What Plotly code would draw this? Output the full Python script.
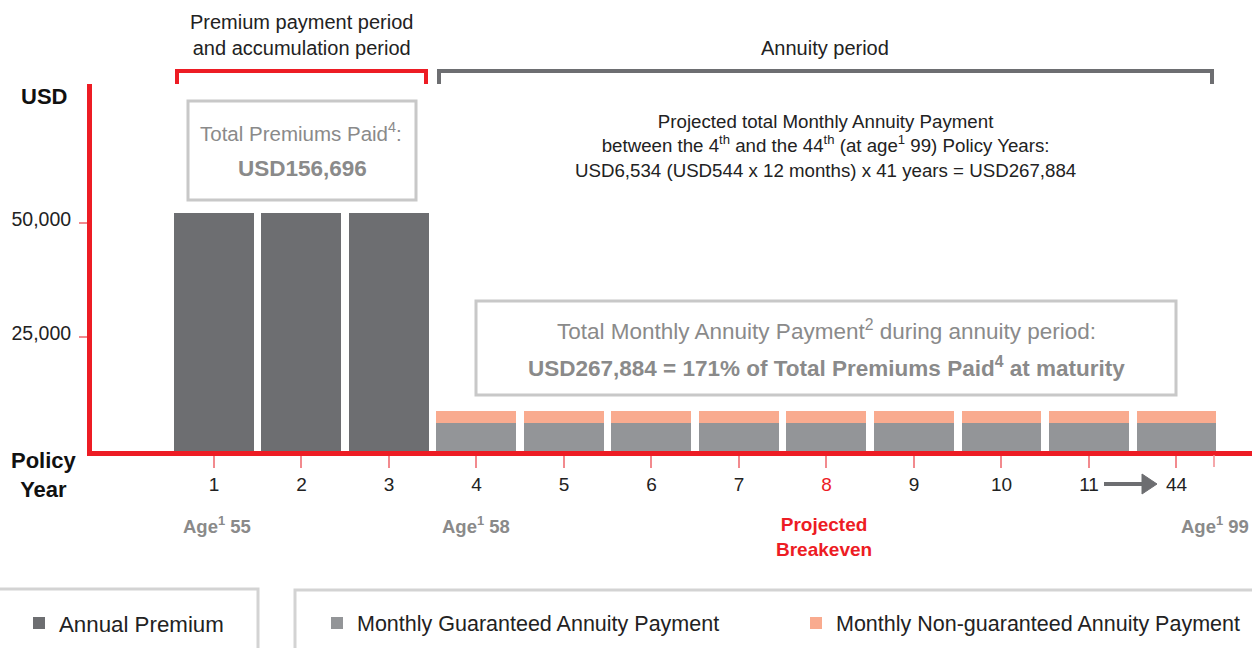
import plotly.graph_objects as go

# ---- data ----
policy_years = ["1", "2", "3", "4", "5", "6", "7", "8", "9", "10", "11", "44"]
premium_years = ["1", "2", "3"]
annual_premium = [52232, 52232, 52232]
annuity_years = ["4", "5", "6", "7", "8", "9", "10", "11", "44"]
guaranteed_annuity = [6200, 6200, 6200, 6200, 6200, 6200, 6200, 6200, 6200]
non_guaranteed_annuity = [2600, 2600, 2600, 2600, 2600, 2600, 2600, 2600, 2600]
y_tick_values = [25000, 50000]
y_tick_labels = ["25,000", "50,000"]
x_tick_labels = ["1", "2", "3", "4", "5", "6", "7",
                 '<span style="color:#ed1c24">8</span>', "9", "10", "11", "44"]

# ---- style ----
RED = "#ed1c24"
TICK_RED = "#f28a8e"
C_PREM = "#6d6e71"
C_GUAR = "#939598"
C_NONG = "#f9ab8f"
BOX = "#c8c8c8"
GTXT = "#8a8a8a"
FONT = "Liberation Sans, Arial, sans-serif"

W, H = 1252, 648
L, T, R, B = 92, 84, 0, 197
PW, PH = W - L - R, H - T - B


def px(x):
    return (x - L) / PW


def py(y):
    return (H - B - y) / PH


fig = go.Figure()
fig.add_trace(go.Bar(x=premium_years, y=annual_premium, name="Annual Premium",
                     marker=dict(color=C_PREM, line=dict(width=0)), legend="legend"))
fig.add_trace(go.Bar(x=annuity_years, y=guaranteed_annuity,
                     name="Monthly Guaranteed Annuity Payment",
                     marker=dict(color=C_GUAR, line=dict(width=0)), legend="legend2"))
fig.add_trace(go.Bar(x=annuity_years, y=non_guaranteed_annuity,
                     name="Monthly Non-guaranteed Annuity Payment",
                     marker=dict(color=C_NONG, line=dict(width=0)), legend="legend3"))

shapes = []
annotations = []


def rect(x0, y0, x1, y1, color=BOX, w=3):
    shapes.append(dict(type="rect", xref="paper", yref="paper",
                       x0=px(x0), x1=px(x1), y0=py(y0), y1=py(y1),
                       line=dict(color=color, width=w), layer="above"))


def path(points, color, w):
    d = "M " + " L ".join(f"{px(x)},{py(y)}" for x, y in points)
    shapes.append(dict(type="path", xref="paper", yref="paper", path=d,
                       line=dict(color=color, width=w)))


def text(x, y, s, size=17, color="#222", xanchor="center", bold=False, align="center"):
    if bold:
        s = "<b>" + s + "</b>"
    annotations.append(dict(xref="paper", yref="paper", x=px(x), y=py(y), text=s,
                            showarrow=False, xanchor=xanchor, yanchor="middle",
                            align=align, font=dict(family=FONT, size=size, color=color)))


# brackets
path([(177, 84), (177, 71), (426, 71), (426, 84)], RED, 4)
path([(439, 84), (439, 71), (1212, 71), (1212, 84)], C_PREM, 4)
text(301, 35, "Premium payment period<br>and accumulation period", size=20)
text(825, 48, "Annuity period", size=20)

# text boxes
rect(188, 101, 416, 200)
text(301, 132, "Total Premiums Paid<sup>4</sup>:", size=20.5, color=GTXT)
text(302, 168, "USD156,696", size=22.5, color=GTXT, bold=True)
rect(476, 301, 1176, 395)
text(826, 330, "Total Monthly Annuity Payment<sup>2</sup> during annuity period:",
     size=22.5, color=GTXT)
text(826, 367, "USD267,884 = 171% of Total Premiums Paid<sup>4</sup> at maturity",
     size=22.5, color=GTXT, bold=True)
text(825, 146, "Projected total Monthly Annuity Payment<br>"
               "between the 4<sup>th</sup> and the 44<sup>th</sup> (at age<sup>1</sup> 99) Policy Years:<br>"
               "USD6,534 (USD544 x 12 months) x 41 years = USD267,884", size=18.7)

# axis labels
text(44, 96, "USD", size=22, color="#111", bold=True)
text(44, 475, "Policy<br>Year", size=22, color="#111", bold=True)

# age labels
text(217, 525, "Age<sup>1</sup> 55", size=18.5, color=GTXT, bold=True)
text(476, 525, "Age<sup>1</sup> 58", size=18.5, color=GTXT, bold=True)
text(824, 537, "Projected<br>Breakeven", size=19, color=RED, bold=True)
text(1251, 525, "Age<sup>1</sup> 99", size=18.5, color=GTXT, bold=True, xanchor="right")

# arrow between 11 and 44
path([(1104, 484), (1144, 484)], C_PREM, 4)
shapes.append(dict(type="path", xref="paper", yref="paper",
                   path=f"M {px(1142)},{py(474)} L {px(1157)},{py(484)} L {px(1142)},{py(494)} Z",
                   fillcolor=C_PREM, line=dict(color=C_PREM, width=1)))

# extra tick at right edge of last bar
path([(1214, 455), (1214, 467)], TICK_RED, 1.5)

# legend boxes
rect(-10, 589, 258, 670, color="#d3d3d3", w=3)
rect(295, 590, 1262, 670, color="#d3d3d3", w=3)

legend_font = dict(family=FONT, size=21.5, color="#222")
fig.update_layout(
    width=W, height=H,
    margin=dict(l=L, r=R, t=T, b=B, pad=0),
    paper_bgcolor="white", plot_bgcolor="white",
    barmode="stack", bargap=0.086,
    font=dict(family=FONT, size=19, color="#222"),
    shapes=shapes, annotations=annotations,
    legend=dict(x=px(19), y=py(623), xanchor="left", yanchor="middle",
                font=dict(family=FONT, size=22.3, color="#222"), bgcolor="rgba(0,0,0,0)"),
    legend2=dict(x=px(317), y=py(623), xanchor="left", yanchor="middle",
                 font=legend_font, bgcolor="rgba(0,0,0,0)"),
    legend3=dict(x=px(796), y=py(623), xanchor="left", yanchor="middle",
                 font=legend_font, bgcolor="rgba(0,0,0,0)"),
    xaxis=dict(type="category", categoryorder="array", categoryarray=policy_years,
               range=[-1.394, 11.863], showgrid=False, zeroline=False,
               showline=True, linecolor=RED, linewidth=5,
               ticks="outside", ticklen=12, tickwidth=1.5, tickcolor=TICK_RED,
               tickvals=policy_years, ticktext=x_tick_labels,
               tickfont=dict(family=FONT, size=19, color="#222")),
    yaxis=dict(range=[0, 80500], showgrid=False, zeroline=False,
               showline=True, linecolor=RED, linewidth=5,
               ticks="outside", ticklen=8, tickwidth=1.5, tickcolor=TICK_RED,
               tickvals=y_tick_values, ticktext=y_tick_labels,
               ticklabelstandoff=4, ticklabelshift=-4,
               tickfont=dict(family=FONT, size=19.5, color="#222")),
    showlegend=True,
)

fig.write_html("out.html", config={"displayModeBar": False},
               post_script="document.body.style.margin='0';document.body.style.overflow='hidden';")
